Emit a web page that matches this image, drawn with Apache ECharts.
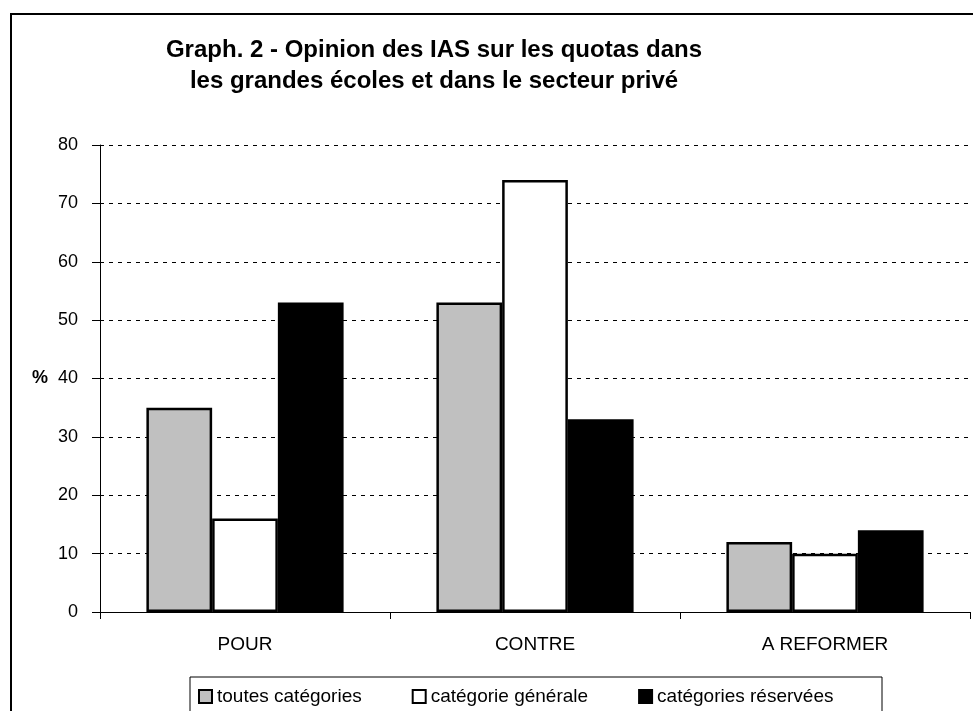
<!DOCTYPE html>
<html style="height: 100%">

<head>
    <meta charset="utf-8">
    <script src="https://cdn.jsdelivr.net/npm/echarts@6/dist/echarts.min.js"></script>
</head>

<body style="height: 100%; margin: 0; background: #fff">
    <div id="main" style="width: 973px;height:711px;"></div>
    <script type="text/javascript">
        // données (en %)
        var categories = ['POUR', 'CONTRE', 'A REFORMER'];
        var seriesNames = ['toutes catégories', 'catégorie générale', 'catégories réservées'];
        var toutes = [35, 53, 12];
        var generale = [16, 74, 10];
        var reservees = [53, 33, 14];
        var yTicks = [0, 80, 10]; // min, max, interval

        var font = 'Arial, "Liberation Sans", sans-serif';
        var colors = ['#c0c0c0', '#ffffff', '#000000'];

        function barSeries(name, data, color) {
            return {
                name: name,
                type: 'bar',
                data: data,
                barGap: '0%',
                barCategoryGap: '32%',
                itemStyle: {
                    color: color,
                    borderColor: '#000',
                    borderWidth: 2.5
                },
                emphasis: { disabled: true }
            };
        }

        var myChart = echarts.init(document.getElementById('main'));
        myChart.setOption({
            animation: false,
            textStyle: { fontFamily: font },
            title: {
                text: 'Graph. 2 - Opinion des IAS sur les quotas dans\nles grandes écoles et dans le secteur privé',
                left: 429,
                top: 30,
                textAlign: 'center',
                textStyle: {
                    fontFamily: font,
                    fontSize: 24,
                    fontWeight: 'bold',
                    color: '#000',
                    lineHeight: 31
                }
            },
            // cadre extérieur et boîte de légende
            graphic: [{
                type: 'rect',
                shape: { x: 11, y: 14, width: 1000, height: 760 },
                style: { fill: null, stroke: '#000', lineWidth: 2 },
                silent: true
            }, {
                type: 'rect',
                shape: { x: 190, y: 677, width: 692, height: 60 },
                style: { fill: '#fff', stroke: '#000', lineWidth: 1 },
                silent: true
            }],
            legend: {
                data: seriesNames,
                left: 193,
                top: 682,
                itemWidth: 13,
                itemHeight: 13,
                itemGap: 50,
                icon: 'rect',
                selectedMode: false,
                textStyle: { fontFamily: font, fontSize: 19, color: '#000' },
                z: 10
            },
            grid: {
                left: 100,
                right: 3,
                top: 145,
                bottom: 99
            },
            xAxis: {
                type: 'category',
                data: categories,
                axisLine: { show: true, lineStyle: { color: '#000', width: 1 } },
                axisTick: { show: true, length: 7, lineStyle: { color: '#000' } },
                axisLabel: { color: '#000', fontSize: 19, margin: 23, fontFamily: font }
            },
            yAxis: {
                type: 'value',
                min: yTicks[0],
                max: yTicks[1],
                interval: yTicks[2],
                name: '%',
                nameLocation: 'middle',
                nameRotate: 0,
                nameGap: 52,
                nameTextStyle: { fontSize: 18, fontWeight: 'bold', color: '#000', fontFamily: font },
                axisLine: { show: true, lineStyle: { color: '#000', width: 1 } },
                axisTick: { show: true, length: 8, lineStyle: { color: '#000' } },
                axisLabel: { color: '#000', fontSize: 18, margin: 22, fontFamily: font },
                splitLine: { show: true, lineStyle: { color: '#000', width: 1, type: [4, 5] } }
            },
            series: [
                barSeries(seriesNames[0], toutes, colors[0]),
                barSeries(seriesNames[1], generale, colors[1]),
                barSeries(seriesNames[2], reservees, colors[2])
            ]
        });
    </script>
</body>

</html>
